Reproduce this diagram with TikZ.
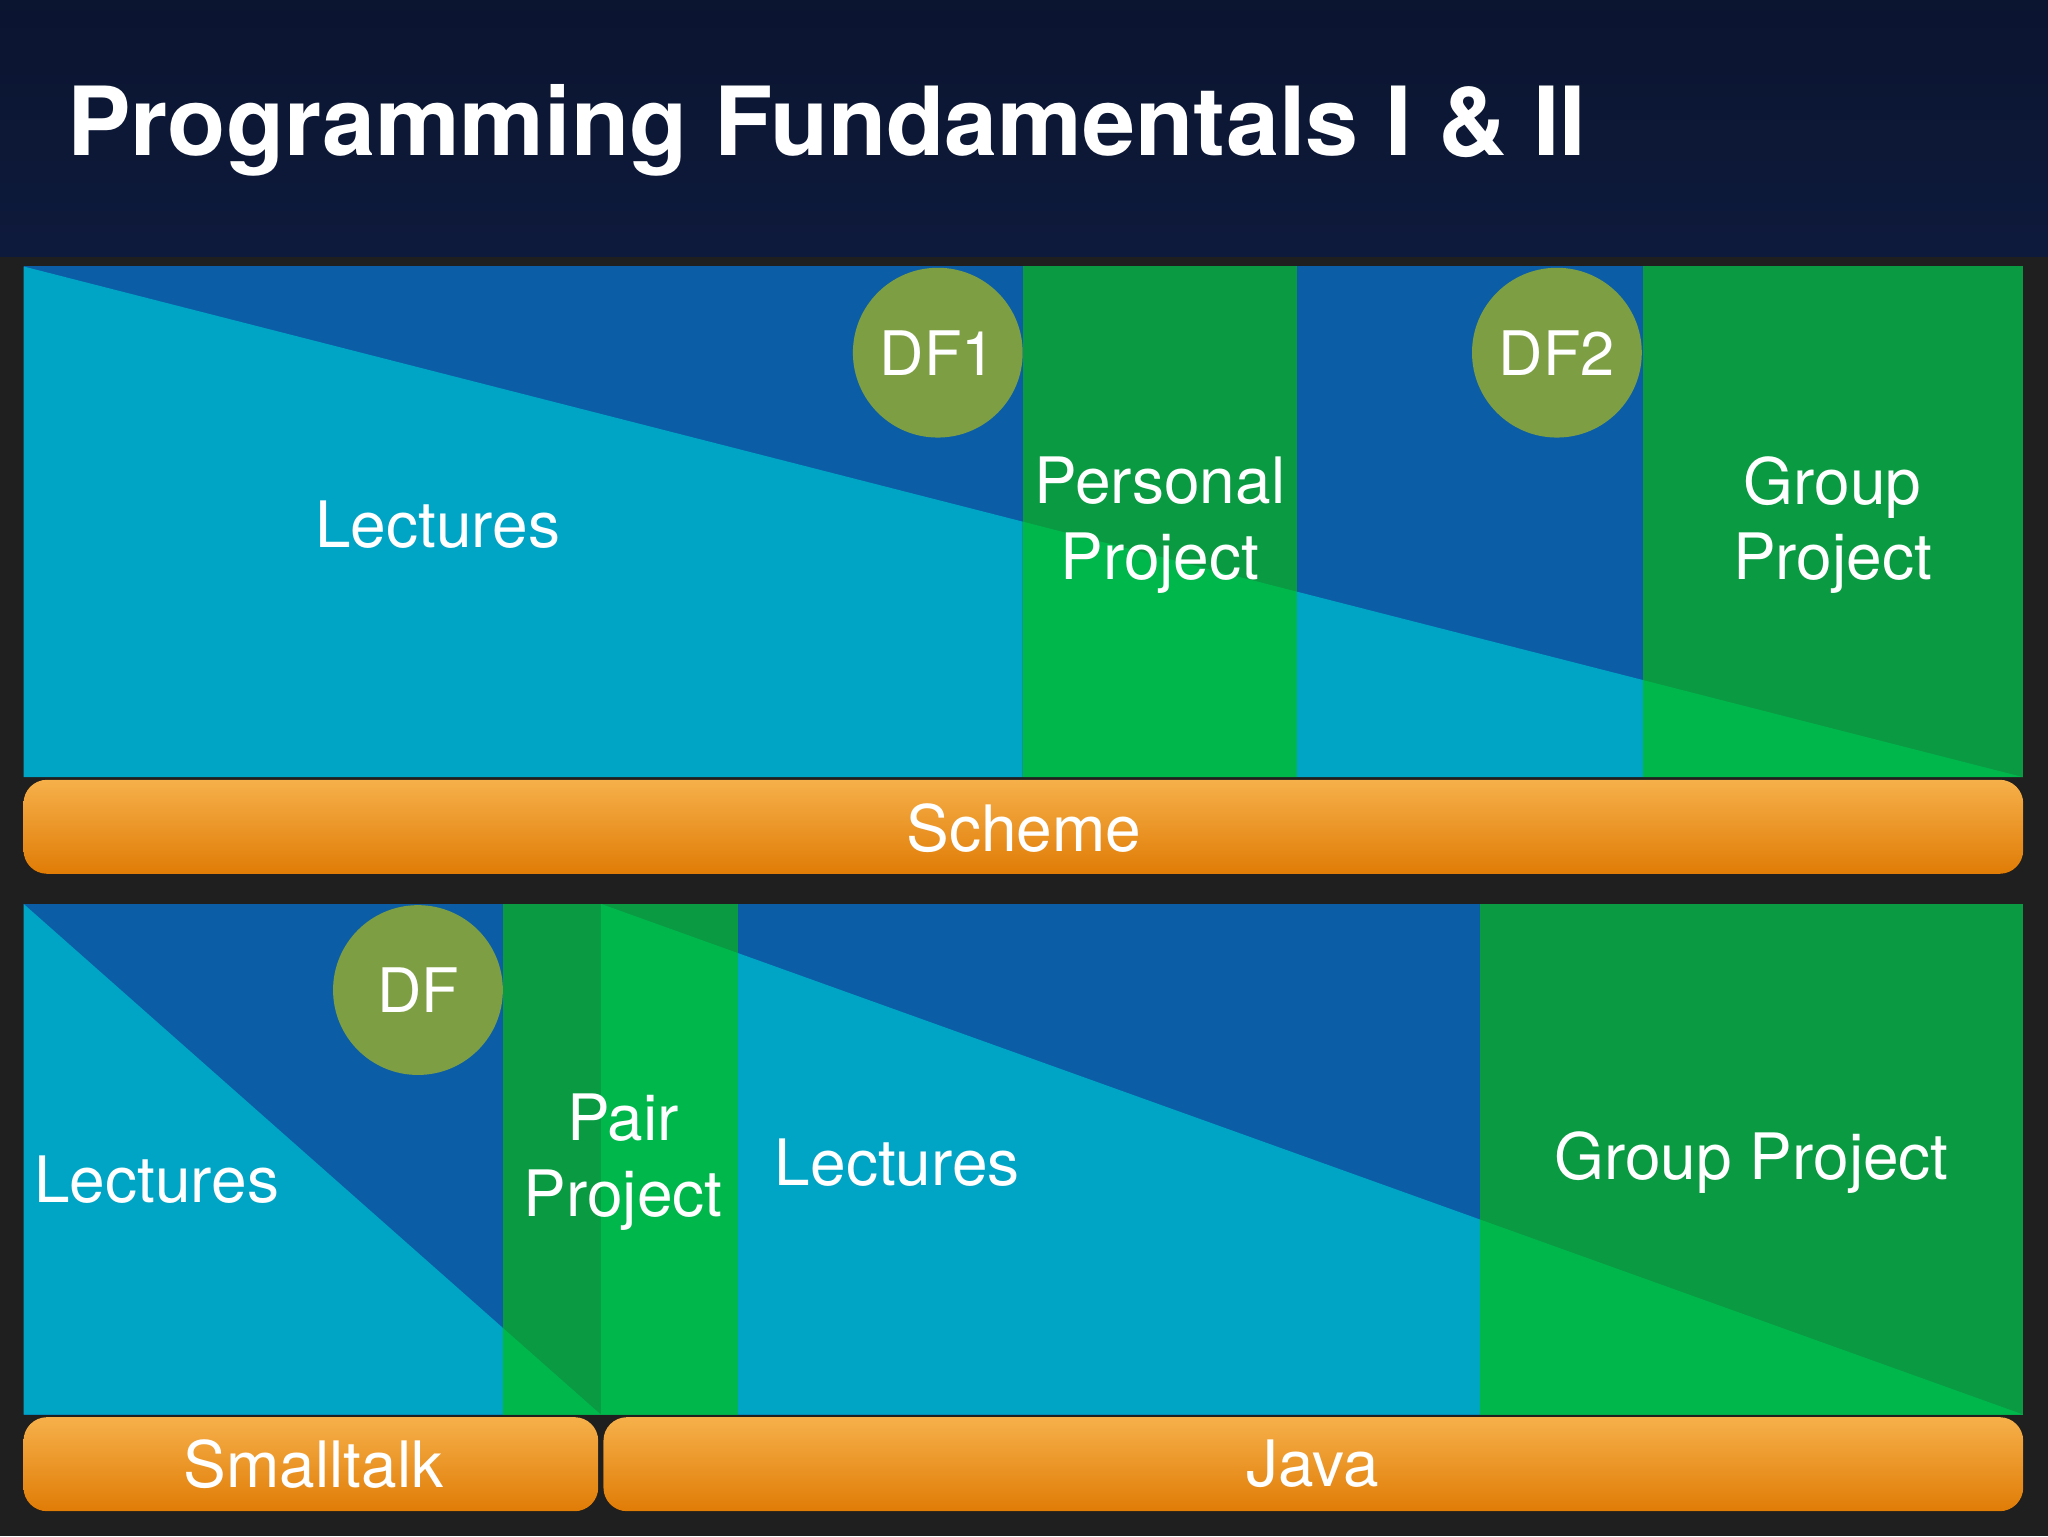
\documentclass[tikz,border=0pt]{standalone}
\usepackage{fontspec}
\setmainfont{TeX Gyre Heros}
\definecolor{dblue}{HTML}{0B5EA6}
\definecolor{cyanl}{HTML}{00A5C6}
\definecolor{dgreen}{HTML}{0A9A42}
\definecolor{lgreen}{HTML}{00B74C}
\definecolor{olive}{HTML}{7E9E44}
\definecolor{navy}{HTML}{0E1A3C}
\definecolor{orangeA}{HTML}{F6B04A}
\definecolor{orangeB}{HTML}{E07C06}
\tikzset{
 lbl/.style={text=white,font=\fontsize{49}{58}\selectfont,align=center},
 dfc/.style={circle,fill=olive,minimum size=130pt,inner sep=0pt,text=white,font=\fontsize{47}{52}\selectfont},
 bar/.style={rounded corners=18pt,top color=orangeA,bottom color=orangeB,draw=none},
}
\begin{document}
\begin{tikzpicture}[x=1pt,y=-1pt]
\useasboundingbox (0,0) rectangle (1568,1176);
\fill[black!88] (0,0) rectangle (1568,1176);
\fill[top color=navy!80!black,bottom color=navy] (0,0) rectangle (1568,196);
\node[anchor=west,text=white,font=\bfseries\fontsize{73}{80}\selectfont] (title) at (48,100) {Programming Fundamentals I \& II};
% top panel columns
\foreach \a/\b/\d/\l in {18/783/dblue/cyanl,783/993/dgreen/lgreen,993/1258/dblue/cyanl,1258/1549/dgreen/lgreen}{
 \fill[\d] (\a,204) rectangle (\b,595);
 \begin{scope}\clip (\a,204) rectangle (\b,595);
 \fill[\l] (18,204) -- (1549,595) -- (18,595) -- cycle;\end{scope}}
% bottom panel
\foreach \a/\b/\d/\l in {18/385/dblue/cyanl,385/460/dgreen/lgreen}{
 \fill[\d] (\a,692) rectangle (\b,1083);
 \begin{scope}\clip (\a,692) rectangle (\b,1083);
 \fill[\l] (18,692) -- (460,1083) -- (18,1083) -- cycle;\end{scope}}
\foreach \a/\b/\d/\l in {460/565/dgreen/lgreen,565/1133/dblue/cyanl,1133/1549/dgreen/lgreen}{
 \fill[\d] (\a,692) rectangle (\b,1083);
 \begin{scope}\clip (\a,692) rectangle (\b,1083);
 \fill[\l] (460,692) -- (1549,1083) -- (460,1083) -- cycle;\end{scope}}
\node[dfc] (df1) at (718,270) {DF1};
\node[dfc] (df2) at (1192,270) {DF2};
\node[dfc] (df) at (320,758) {DF};
\node[lbl] (l1) at (335,402) {Lectures};
\node[lbl] (pp) at (888,402) {Personal\\Project};
\node[lbl] (gp1) at (1403,402) {Group\\Project};
\node[lbl] (l2) at (120,903) {Lectures};
\node[lbl] (pair) at (477,890) {Pair\\Project};
\node[lbl] (l3) at (687,890) {Lectures};
\node[lbl] (gp2) at (1341,890) {Group Project};
\fill[bar] (18,597) rectangle (1549,669);
\node[lbl] (scheme) at (784,634) {Scheme};
\fill[bar] (18,1085) rectangle (458,1157);
\node[lbl] (st) at (240,1121) {Smalltalk};
\fill[bar] (462,1085) rectangle (1549,1157);
\node[lbl] (java) at (1005,1121) {Java};
\end{tikzpicture}
\end{document}
